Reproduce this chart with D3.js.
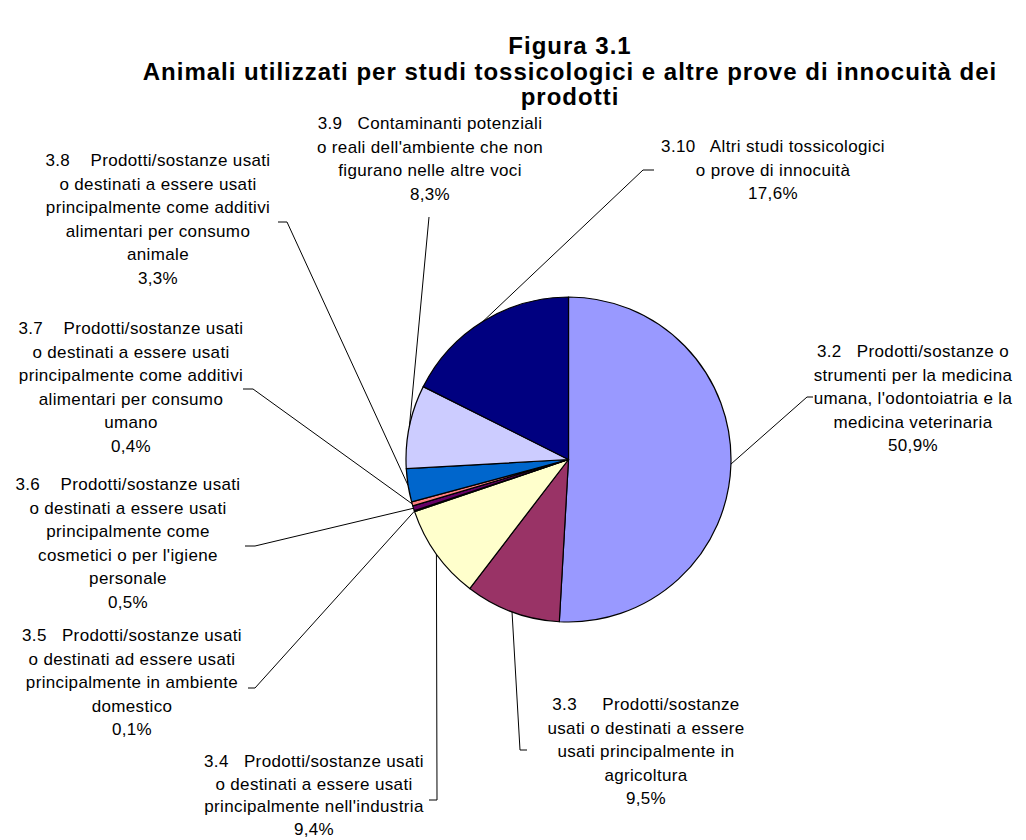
<!DOCTYPE html>
<html><head><meta charset="utf-8">
<script src="https://cdn.jsdelivr.net/npm/d3@7"></script>
<style>
body{margin:0;background:#fff;}
svg{display:block;font-family:"Liberation Sans",Arial,sans-serif;}
</style></head>
<body><svg id="chart" width="1026" height="840"></svg>
<script>
const titleLines = ["Figura 3.1","Animali utilizzati per studi tossicologici e altre prove di innocuità dei","prodotti"];
const categories = ["3.2","3.3","3.4","3.5","3.6","3.7","3.8","3.9","3.10"];
const values = [50.9, 9.5, 9.4, 0.1, 0.5, 0.4, 3.3, 8.3, 17.6];
const valueLabels = ["50,9%","9,5%","9,4%","0,1%","0,5%","0,4%","3,3%","8,3%","17,6%"];
const labelTexts = [
  ["3.2   Prodotti/sostanze o","strumenti per la medicina","umana, l'odontoiatria e la","medicina veterinaria"],
  ["3.3     Prodotti/sostanze","usati o destinati a essere","usati principalmente in","agricoltura"],
  ["3.4   Prodotti/sostanze usati","o destinati a essere usati","principalmente nell'industria"],
  ["3.5   Prodotti/sostanze usati","o destinati ad essere usati","principalmente in ambiente","domestico"],
  ["3.6    Prodotti/sostanze usati","o destinati a essere usati","principalmente come","cosmetici o per l'igiene","personale"],
  ["3.7    Prodotti/sostanze usati","o destinati a essere usati","principalmente come additivi","alimentari per consumo","umano"],
  ["3.8    Prodotti/sostanze usati","o destinati a essere usati","principalmente come additivi","alimentari per consumo","animale"],
  ["3.9   Contaminanti potenziali","o reali dell'ambiente che non","figurano nelle altre voci"],
  ["3.10   Altri studi tossicologici","o prove di innocuità"]
];
const colors = ["#9999FF","#993366","#FFFFCC","#CCFFFF","#660066","#FF8080","#0066CC","#CCCCFF","#000080"];

// layout: label block (center x, first-line baseline y, line step) and leader-line end points
const labelLayout = [
  {x:913, y:357, h:23.5, lx:[807,813], ly:397},
  {x:646, y:710, h:23.5, lx:[520,527], ly:750},
  {x:314, y:767, h:22.5, lx:[437,429], ly:800},
  {x:132, y:641, h:23.5, lx:[255,248], ly:688},
  {x:128, y:490, h:23.5, lx:[255,245], ly:546},
  {x:131, y:334, h:23.5, lx:[253,243], ly:389},
  {x:158, y:166, h:23.5, lx:[287,278], ly:222},
  {x:430, y:129, h:23.5, lx:[429,429], ly:217},
  {x:773, y:152, h:23.5, lx:[643,654], ly:170}
];

const svg = d3.select("#chart");
const cx = 568.5, cy = 459.5, R = 162.5;

svg.append("g").selectAll("text").data(titleLines).join("text")
  .attr("x", 570).attr("y", (d,i)=>[54,80,105][i])
  .attr("text-anchor","middle").attr("font-weight","bold").attr("font-size",24)
  .attr("letter-spacing",1)
  .attr("fill","#000").text(d=>d);

const pie = d3.pie().sort(null).value(d=>d).startAngle(0).endAngle(2*Math.PI);
const arcs = pie(values);
const arc = d3.arc().innerRadius(0).outerRadius(R);
const edge = d3.arc().innerRadius(R).outerRadius(R);

const g = svg.append("g").attr("transform",`translate(${cx},${cy})`);
g.selectAll("path").data(arcs).join("path")
  .attr("d", arc).attr("fill",(d,i)=>colors[i])
  .attr("stroke","#000").attr("stroke-width",1.2).attr("stroke-linejoin","round");

// leader lines
const leaders = svg.append("g");
arcs.forEach((a,i)=>{
  const c = edge.centroid(a);
  const L = labelLayout[i];
  const pts = [[cx+c[0], cy+c[1]],[L.lx[0],L.ly],[L.lx[1],L.ly]];
  leaders.append("path").attr("d", d3.line()(pts))
    .attr("fill","none").attr("stroke","#000").attr("stroke-width",1);
});

// labels
const lab = svg.append("g").attr("font-size",17).attr("letter-spacing",0.35).attr("fill","#000");
labelTexts.forEach((lines,i)=>{
  const L = labelLayout[i];
  const all = lines.concat([valueLabels[i]]);
  const t = lab.append("text").attr("text-anchor","middle").style("white-space","pre");
  all.forEach((s,j)=>{
    t.append("tspan").attr("x",L.x).attr("y",L.y + j*L.h).text(s);
  });
});
</script></body></html>
